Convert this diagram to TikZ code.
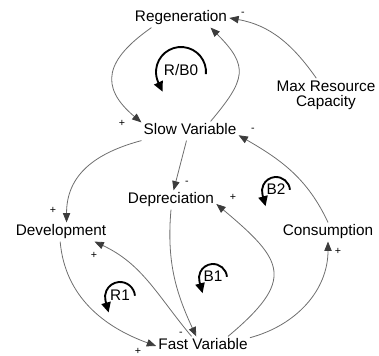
\documentclass[tikz,border=0pt]{standalone}
\usepackage{fontspec}
\setmainfont{Liberation Sans}
\usetikzlibrary{arrows.meta}

\definecolor{linkgray}{HTML}{6E6E6E}
\definecolor{headgray}{HTML}{3C3C3C}

\tikzset{
  varname/.style={font=\fontsize{11.5}{13}\selectfont, inner sep=1.5pt, text height=8.5pt, text depth=2.5pt},
  varlines/.style={font=\fontsize{11.5}{11.5}\selectfont, inner sep=1.5pt, align=center},
  sign/.style={font=\fontsize{8}{9}\selectfont, inner sep=0pt},
  link/.style={draw=linkgray, line width=0.6pt, -{Triangle[length=7pt,width=5.5pt,color=headgray]}},
  loopmark/.style={draw=black, line width=1.4pt, -{Triangle[length=7.5pt,width=7pt]}}
}

\begin{document}
\begin{tikzpicture}[x=0.75pt,y=0.75pt]
\useasboundingbox (0,0) rectangle (379,356);

% variables
\node[varname] (regeneration) at (181,338) {Regeneration};
\node[varlines] (maxresource) at (326,261) {Max Resource\\Capacity};
\node[varname] (slowvariable) at (190,225) {Slow Variable};
\node[varname] (depreciation) at (171,156) {Depreciation};
\node[varname] (development) at (61,124) {Development};
\node[varname] (consumption) at (328,124) {Consumption};
\node[varname] (fastvariable) at (203,10) {Fast Variable};

% links
\draw[link] (regeneration.198) to[out=215,in=140,looseness=1.5] (slowvariable.170);
\draw[link] (slowvariable.25) to[out=50,in=-45,looseness=1.5] (regeneration.342);
\draw[link] (maxresource.120) to[out=125,in=-10] (regeneration.east);
\draw[link] (slowvariable.250) -- (depreciation.75);
\draw[link] (slowvariable.south west) to[out=195,in=90,looseness=1.1] (development.60);
\draw[link] (consumption.north) to[out=115,in=-30] (slowvariable.-5);
\draw[link] (fastvariable.21) to[out=40,in=-40,looseness=1.7] (depreciation.-5);
\draw[link] (depreciation.south) to[out=265,in=115] (fastvariable.125);
\draw[link] (development.265) to[out=275,in=160] (fastvariable.west);
\draw[link] (fastvariable.140) to[out=130,in=-25] (development.-16);
\draw[link] (fastvariable.10) to[out=15,in=270] (consumption.south);

% polarities
\node[sign] (signRegSlow) at (122,233) {+};
\node[sign] (signMaxReg) at (243,342) {-};
\node[sign] (signConSlow) at (253,226) {-};
\node[sign] (signSlowDep) at (187,173) {-};
\node[sign] (signFastDep) at (233,159) {+};
\node[sign] (signSlowDev) at (53,146) {+};
\node[sign] (signFastDev) at (94,101) {+};
\node[sign] (signFastCon) at (338,105) {+};
\node[sign] (signDepFast) at (181,22) {-};
\node[sign] (signDevFast) at (138,5) {+};

% loops
\node[varname] (loopRB0) at (181,284) {R/B0};
\draw[loopmark] ([shift={(-5:25)}]loopRB0.center) arc[start angle=-5,end angle=205,radius=25] -- ++(295:10);
\node[varname] (loopB2) at (276,165) {B2};
\draw[loopmark] ([shift={(5:14)}]loopB2.center) arc[start angle=5,end angle=195,radius=14] -- ++(285:12);
\node[varname] (loopB1) at (213,78) {B1};
\draw[loopmark] ([shift={(5:14)}]loopB1.center) arc[start angle=5,end angle=195,radius=14] -- ++(285:12);
\node[varname] (loopR1) at (120,59) {R1};
\draw[loopmark] ([shift={(5:15)}]loopR1.center) arc[start angle=5,end angle=195,radius=15] -- ++(285:12);

\end{tikzpicture}
\end{document}
